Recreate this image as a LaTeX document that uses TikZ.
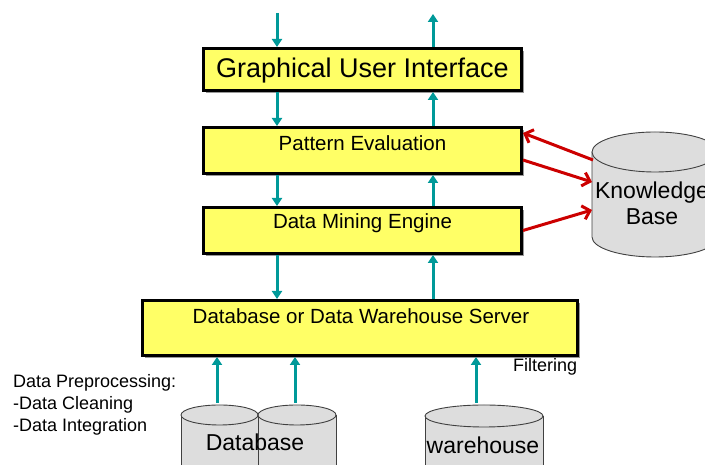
\documentclass[tikz,border=0pt]{standalone}
\usepackage{fontspec}
\setmainfont{Liberation Sans}
\usetikzlibrary{arrows.meta,shadows,calc}
\definecolor{boxyellow}{HTML}{FFFF66}
\definecolor{tealc}{HTML}{009999}
\definecolor{redc}{HTML}{CC0000}
\definecolor{cylfill}{HTML}{DDDDDD}
\definecolor{cyledge}{HTML}{404040}
\begin{document}
\begin{tikzpicture}[x=1pt,y=1pt,
  layerbox/.style={draw=black, line width=3pt, fill=boxyellow, inner sep=0pt,
    drop shadow={shadow xshift=2.5pt,shadow yshift=-2.5pt,fill=black,opacity=0.4}},
  tarr/.style={draw=tealc, line width=3pt, -{Triangle[length=8pt,width=10pt]}},
  rarr/.style={draw=redc, line width=3pt, -{Straight Barb[length=7pt,width=14pt]}},
  cylbody/.style={fill=cylfill, draw=cyledge, line width=0.9pt},
  lbl/.style={font=\fontsize{20.5}{24}\selectfont, inner sep=0pt},
  cyltext/.style={font=\fontsize{23}{26}\selectfont, inner sep=0pt},
  note/.style={font=\fontsize{18}{21}\selectfont, inner sep=0pt, anchor=west},
]
\useasboundingbox (0,0) rectangle (705,465);

% layer boxes
\node[layerbox, minimum width=318pt, minimum height=42pt] (gui) at (362.5,395.5) {};
\node[layerbox, minimum width=318pt, minimum height=46pt] (pe) at (362.5,314.5) {};
\node[layerbox, minimum width=318pt, minimum height=46pt] (dme) at (362.5,234.5) {};
\node[layerbox, minimum width=435pt, minimum height=55pt] (server) at (360,137) {};

\node[font=\fontsize{27}{30}\selectfont, inner sep=0pt] (guit) at (362.5,394) {Graphical User Interface};
\node[lbl] (pet) at (362.5,322) {Pattern Evaluation};
\node[lbl] (dmet) at (362.5,241.5) {Data Mining Engine};
\node[lbl] (servert) at (361,149) {Database or Data Warehouse Server};

% teal vertical arrows
\coordinate (L) at (277,0);
\coordinate (R) at (433,0);
\coordinate (inL) at (277,452);
\coordinate (outR) at (433,451);
\draw[tarr] (inL) -- (gui.north -| inL);
\draw[tarr] (gui.north -| outR) -- (outR);
\draw[tarr] (gui.south -| L) -- (pe.north -| L);
\draw[tarr] (pe.north -| R) -- (gui.south -| R);
\draw[tarr] (pe.south -| L) -- (dme.north -| L);
\draw[tarr] (dme.north -| R) -- (pe.south -| R);
\draw[tarr] (dme.south -| L) -- (server.north -| L);
\draw[tarr] (server.north -| R) -- (dme.south -| R);

% database cylinders
\path[cylbody] (181,50) -- (181,-30) -- (258,-30) -- (258,50) -- cycle;
\path[cylbody] (219.5,50) ellipse[x radius=38.5, y radius=10];
\path[cylbody] (258,50) -- (258,-30) -- (336,-30) -- (336,50) -- cycle;
\path[cylbody] (297,50) ellipse[x radius=39, y radius=10];
\node[cyltext] (dbt) at (255,23) {Database};

% warehouse cylinder
\path[cylbody] (425,49) -- (425,-30) -- (543,-30) -- (543,49) -- cycle;
\path[cylbody] (484,49) ellipse[x radius=59, y radius=11];
\node[cyltext] (wht) at (483,20) {warehouse};

% knowledge base cylinder
\path[cylbody] (592,313) -- (592,228) arc[start angle=180, end angle=360, x radius=63, y radius=20] -- (718,313) -- cycle;
\path[cylbody] (655,313) ellipse[x radius=63, y radius=20];
\node[cyltext, align=center] (kbt) at (652,262) {Knowledge\\Base};

% arrows from sources to server
\coordinate (db1) at (217,62);
\coordinate (db2) at (295,62);
\coordinate (wh) at (476,62);
\draw[tarr] (db1) -- (server.south -| db1);
\draw[tarr] (db2) -- (server.south -| db2);
\draw[tarr] (wh) -- (server.south -| wh);

% red arrows with knowledge base
\coordinate (kb1) at (593,305);
\coordinate (kb2) at (592,283);
\coordinate (kb3) at (592,255);
\draw[rarr] (kb1) -- ($(pe.north east)+(0,-7)$);
\draw[rarr] ($(pe.east)+(0,-9.5)$) -- (kb2);
\draw[rarr] (dme.east) -- (kb3);

% notes
\node[note] (filt) at (513,98) {Filtering};
\node[note] (dp1) at (13,82) {Data Preprocessing:};
\node[note] (dp2) at (13,60.5) {-Data Cleaning};
\node[note] (dp3) at (13,38.5) {-Data Integration};
\end{tikzpicture}
\end{document}
